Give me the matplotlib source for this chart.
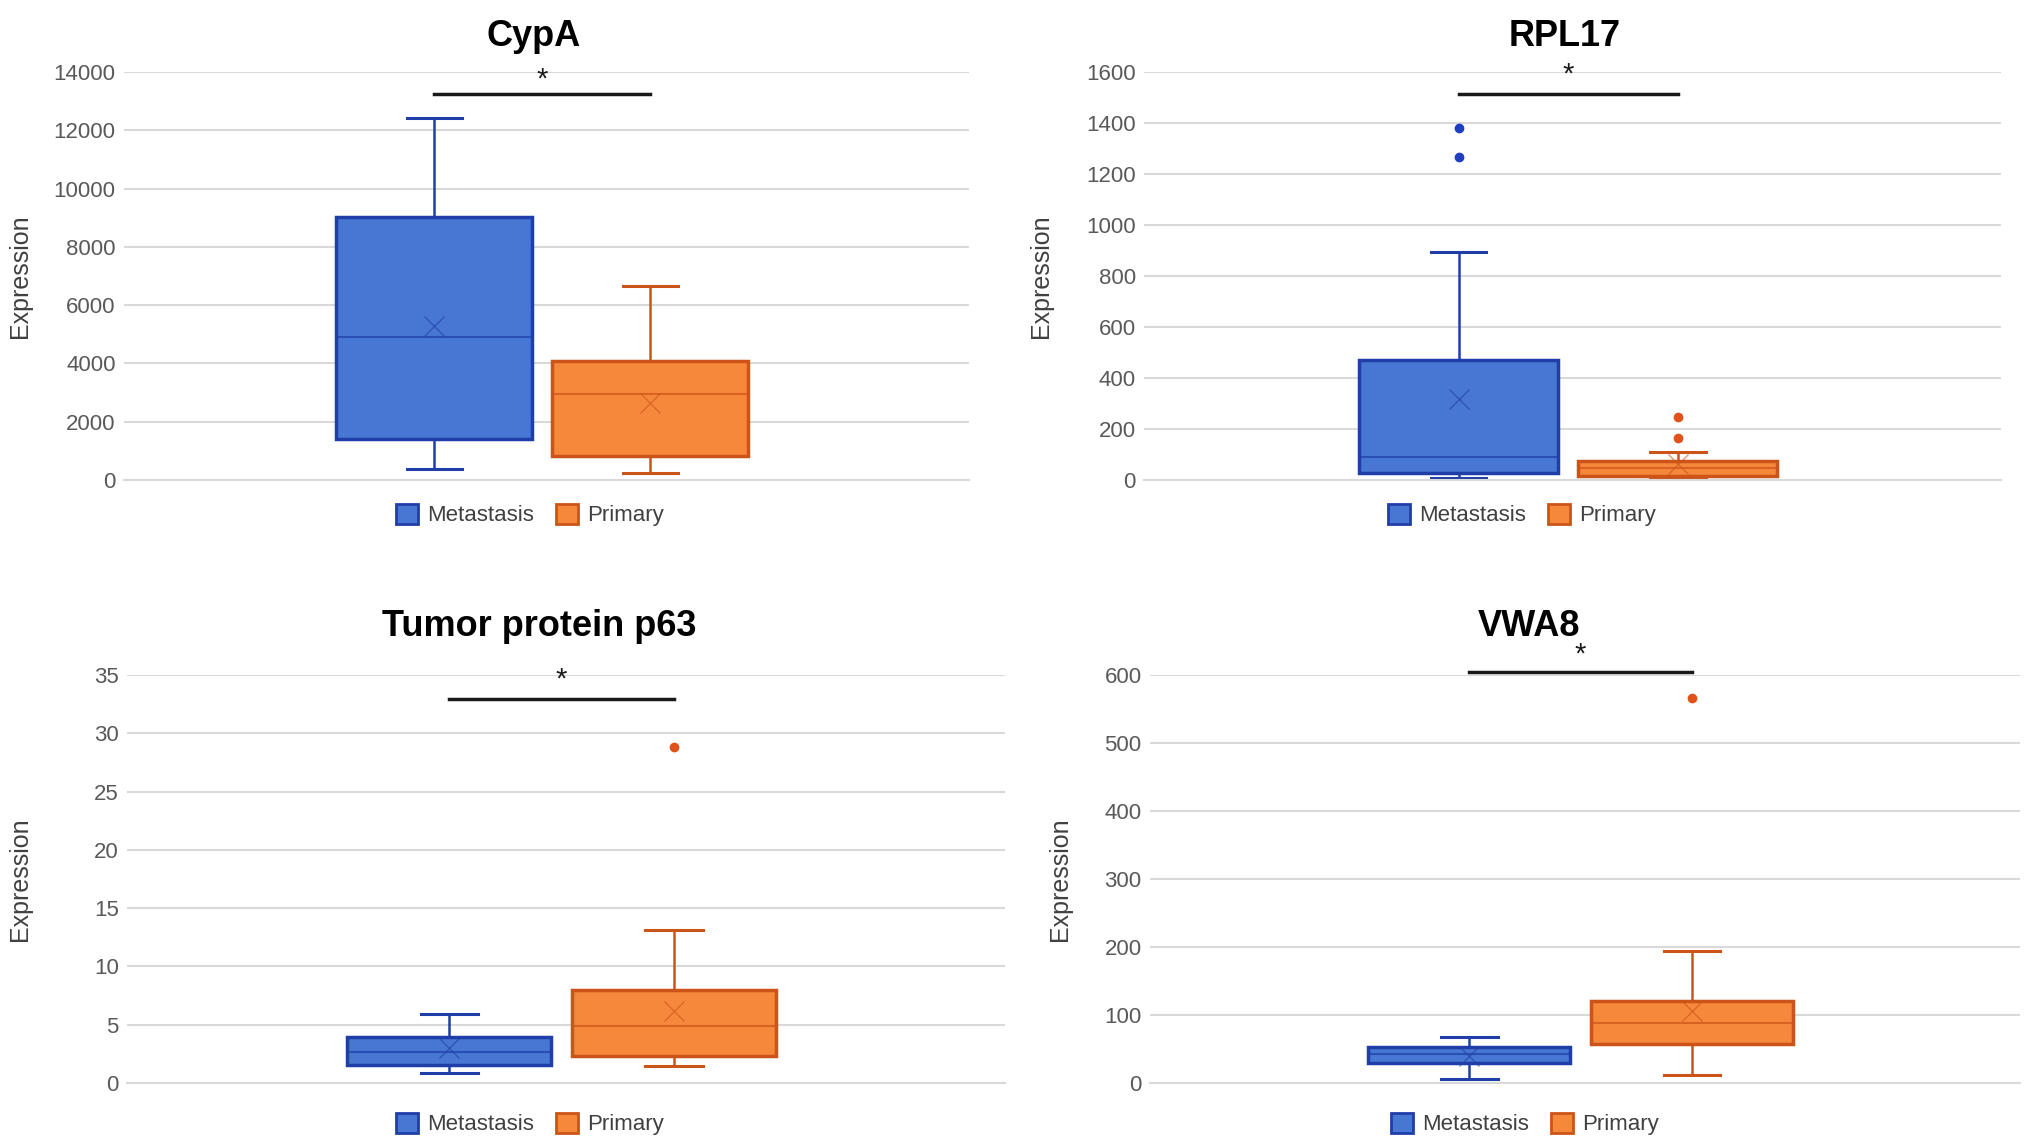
import matplotlib.pyplot as plt
from matplotlib.patches import Patch

plt.rcParams['font.family'] = ['Liberation Sans', 'DejaVu Sans']

groups = ['Metastasis', 'Primary']
titles = ['CypA', 'RPL17', 'Tumor protein p63', 'VWA8']

# whislo, q1, med, q3, whishi, mean per gene and group
cypa_met = [380, 1390, 4920, 9020, 12420, 5300]
cypa_pri = [230, 820, 2960, 4100, 6650, 2650]
rpl17_met = [7, 26, 91, 471, 893, 317]
rpl17_pri = [7, 14, 46, 76, 108, 62]
p63_met = [0.88, 1.58, 2.62, 3.94, 5.93, 3.0]
p63_pri = [1.42, 2.3, 4.89, 7.95, 13.15, 6.2]
vwa8_met = [5.4, 29.7, 43, 52.4, 67.6, 40]
vwa8_pri = [12.4, 57.8, 88, 120.5, 194.6, 106]

rpl17_met_out = [1379, 1268]
rpl17_pri_out = [248, 166]
p63_pri_out = [28.86]
vwa8_pri_out = [566]

stats = [
    (cypa_met, [], cypa_pri, []),
    (rpl17_met, rpl17_met_out, rpl17_pri, rpl17_pri_out),
    (p63_met, [], p63_pri, p63_pri_out),
    (vwa8_met, [], vwa8_pri, vwa8_pri_out),
]
ymax = [14000, 1600, 35, 600]
ystep = [2000, 200, 5, 100]
sig_y = [13240, 1513, 32.96, 604]
star_y = [13750, 1590, 34.6, 630]

# axes rectangles in pixels (left, right, top, bottom)
W, H = 2031, 1148
rects = [(124, 969, 72, 480), (1144, 2001, 72, 480),
         (127, 1005, 675, 1083), (1150, 2020, 675, 1083)]
title_x = [534, 1565, 539, 1529]
title_y = [37, 37, 627, 627]
ylab_x = [20, 1041, 20, 1060]
leg_x = [530, 1522, 530, 1525]
leg_y = [515, 515, 1124, 1124]

fill = ['#4777D2', '#F5883A']
edge = ['#1F3EA8', '#CC5418']
outc = ['#1F3FC0', '#E2521C']
pos = [0.367, 0.623]

fig = plt.figure(figsize=(W / 100, H / 100), dpi=100)

for i in range(4):
    l, r, t, b = rects[i]
    ax = fig.add_axes([l / W, 1 - b / H, (r - l) / W, (b - t) / H])
    met, met_out, pri, pri_out = stats[i]
    for j, (s, o) in enumerate([(met, met_out), (pri, pri_out)]):
        d = dict(whislo=s[0], q1=s[1], med=s[2], q3=s[3], whishi=s[4],
                 mean=s[5], fliers=o, label=groups[j])
        ax.bxp([d], positions=[pos[j]], widths=0.232, patch_artist=True,
               showmeans=True, manage_ticks=False,
               boxprops=dict(facecolor=fill[j], edgecolor=edge[j], linewidth=2.5),
               medianprops=dict(color=edge[j], linewidth=1.5, alpha=0.7),
               whiskerprops=dict(color=edge[j], linewidth=1.8),
               capprops=dict(color=edge[j], linewidth=2.2),
               capwidths=0.065,
               meanprops=dict(marker='x', markeredgecolor=edge[j], markersize=14,
                              markeredgewidth=1.0, alpha=0.6),
               flierprops=dict(marker='o', markerfacecolor=outc[j],
                               markeredgecolor=outc[j], markersize=6))
    ax.set_xlim(0, 1)
    ax.set_ylim(0, ymax[i])
    ax.set_yticks([k * ystep[i] for k in range(int(ymax[i] / ystep[i]) + 1)])
    ax.set_xticks([])
    ax.grid(axis='y', color='#D9D9D9', linewidth=1.5)
    ax.set_axisbelow(True)
    for sp in ['top', 'right', 'left']:
        ax.spines[sp].set_visible(False)
    ax.spines['bottom'].set_color('#D9D9D9')
    ax.spines['bottom'].set_linewidth(1.5)
    ax.tick_params(axis='y', length=0, labelsize=16, labelcolor='#595959', pad=6)

    ax.plot(pos, [sig_y[i], sig_y[i]], color='#1a1a1a', linewidth=2.5, clip_on=False)
    ax.text(0.5 * (pos[0] + pos[1]), star_y[i], '*', ha='center', va='center',
            fontsize=21, color='#1a1a1a', clip_on=False)

    fig.text(title_x[i] / W, 1 - title_y[i] / H, titles[i], ha='center', va='center',
             fontsize=26, fontweight='bold', color='black')
    fig.text(ylab_x[i] / W, 1 - (t + b) / 2 / H, 'Expression', rotation=90,
             ha='center', va='center', fontsize=18, color='#404040')

    handles = [Patch(facecolor=fill[k], edgecolor=edge[k], linewidth=2) for k in range(2)]
    fig.legend(handles, groups, loc='center', bbox_to_anchor=(leg_x[i] / W, 1 - leg_y[i] / H),
               ncol=2, frameon=False, fontsize=16, handlelength=1.0, handleheight=1.0,
               handletextpad=0.4, columnspacing=1.0, labelcolor='#404040')

fig.savefig('out.png', dpi=100)
